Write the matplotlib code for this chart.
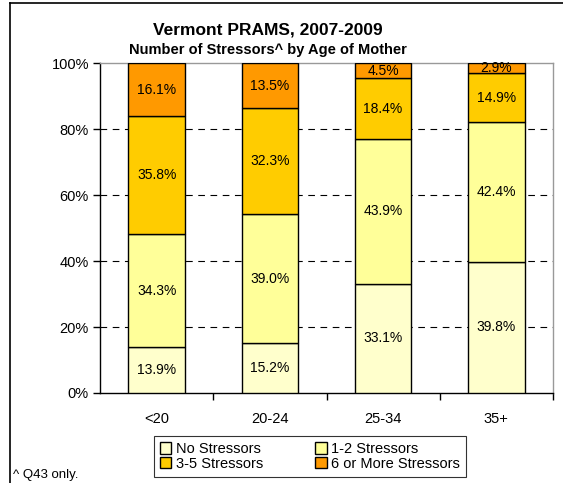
import numpy as np
import matplotlib
matplotlib.use("Agg")
import matplotlib.pyplot as plt
from matplotlib.lines import Line2D

plt.rcParams['font.family'] = ['Liberation Sans', 'DejaVu Sans']

# 数据
ages = ["<20", "20-24", "25-34", "35+"]
none_vals = [13.9, 15.2, 33.1, 39.8]
one_two = [34.3, 39.0, 43.9, 42.4]
three_five = [35.8, 32.3, 18.4, 14.9]
six_plus = [16.1, 13.5, 4.5, 2.9]

series_names = ["No Stressors", "1-2 Stressors", "3-5 Stressors", "6 or More Stressors"]
colors = ["#FFFFCC", "#FFFF99", "#FFCC00", "#FF9900"]

fig = plt.figure(figsize=(5.63, 4.83), dpi=100)
ax = fig.add_axes([100/563, 1-393/483, 453/563, 329.5/483])

all_vals = np.array([none_vals, one_two, three_five, six_plus])
totals = all_vals.sum(axis=0)   # 100%堆积，按总和归一

x = np.arange(len(ages))
bottom = np.zeros(len(ages))
handles = []
for vals, name, col in zip(all_vals, series_names, colors):
    h_vals = vals / totals * 100
    h = ax.bar(x, h_vals, 0.5, bottom=bottom, color=col, edgecolor="black",
               linewidth=1.0, label=name, zorder=3)
    handles.append(h)
    for xi, b, hv, v in zip(x, bottom, h_vals, vals):
        ax.text(xi, b + hv / 2, "%.1f%%" % v, ha="center", va="center", fontsize=10, zorder=4)
    bottom = bottom + h_vals

ax.set_xlim(-0.5, 3.5)
ax.set_ylim(0, 100)
ax.set_yticks([0, 20, 40, 60, 80, 100])
ax.set_yticklabels(["%d%%" % v for v in [0, 20, 40, 60, 80, 100]], fontsize=10.5)
ax.set_xticks(x)
ax.set_xticklabels(ages, fontsize=10.5)
ax.tick_params(axis="x", length=0, pad=14)
ax.set_xticks([0.5, 1.5, 2.5, 3.5], minor=True)
ax.tick_params(axis="x", which="minor", length=5, width=1, direction="out")
ax.tick_params(axis="y", length=5, width=1, direction="out", pad=3)

# 网格线
for g in [20, 40, 60, 80]:
    ax.axhline(g, color="black", lw=0.8, ls=(0, (6, 5)), zorder=1)

ax.spines["left"].set_color("black")
ax.spines["bottom"].set_color("black")
ax.spines["top"].set_color("#999999")
ax.spines["right"].set_color("#999999")
for s in ax.spines.values():
    s.set_linewidth(1.0)

# 标题
fig.text(268/563, 1-30/483, "Vermont PRAMS, 2007-2009", ha="center", va="center",
         fontsize=12.5, fontweight="bold")
fig.text(268/563, 1-50/483, "Number of Stressors^ by Age of Mother", ha="center", va="center",
         fontsize=10.5, fontweight="bold")

# 图例按行排列
order = [0, 2, 1, 3]
leg = fig.legend(handles=[handles[i] for i in order], labels=[series_names[i] for i in order],
                 ncol=2, loc="center",
                 bbox_to_anchor=(310/563, 1-456.5/483), fontsize=10.5, frameon=True,
                 fancybox=False, edgecolor="black", handlelength=0.8, handleheight=0.8,
                 handletextpad=0.3, columnspacing=3.6, labelspacing=0.05, borderpad=0.4)
leg.get_frame().set_linewidth(0.8)

fig.text(13/563, 1-475/483, "^ Q43 only.", ha="left", va="center", fontsize=9.5)

# 外框
fig.add_artist(Line2D([10/563, 10/563], [0, 1-3/483], color="black", lw=1.2, transform=fig.transFigure))
fig.add_artist(Line2D([10/563, 1], [1-3/483, 1-3/483], color="black", lw=1.2, transform=fig.transFigure))

fig.savefig("out.png", dpi=100)
